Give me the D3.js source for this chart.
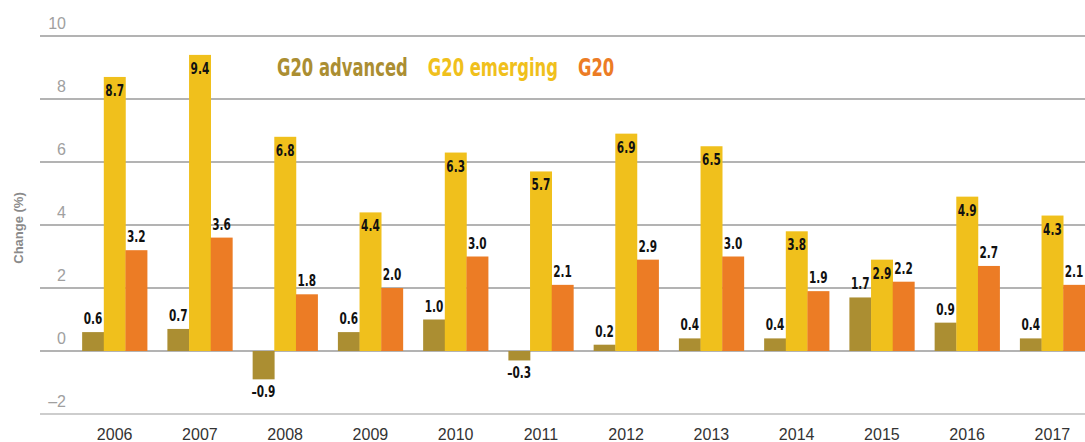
<!DOCTYPE html>
<html>
<head>
<meta charset="utf-8">
<script src="https://cdn.jsdelivr.net/npm/d3@7"></script>
<style>
  body { margin: 0; background: #fff; }
  svg { display: block; }
</style>
</head>
<body>
<script>
let years = ['2006','2007','2008','2009','2010','2011','2012','2013','2014','2015','2016','2017'];
let seriesNames = ['G20 advanced', 'G20 emerging', 'G20'];
let advanced = [0.6, 0.7, -0.9, 0.6, 1.0, -0.3, 0.2, 0.4, 0.4, 1.7, 0.9, 0.4];
let emerging = [8.7, 9.4, 6.8, 4.4, 6.3, 5.7, 6.9, 6.5, 3.8, 2.9, 4.9, 4.3];
let g20 = [3.2, 3.6, 1.8, 2.0, 3.0, 2.1, 2.9, 3.0, 1.9, 2.2, 2.7, 2.1];
let yTicks = [-2, 0, 2, 4, 6, 8, 10];

let colors = ['#ab8e32', '#f0c01c', '#ec7c25'];
let seriesValues = [advanced, emerging, g20];

let width = 1085,
    height = 442;

let svg = d3.select("body")
    .append("svg")
    .attr("width", width)
    .attr("height", height);

let y = d3.scaleLinear()
    .domain([-2, 10])
    .range([414, 36]);

let x = d3.scaleBand()
    .domain(years)
    .range([72, 1095])
    .paddingInner(0.238)
    .paddingOuter(0.119);

let xSub = d3.scaleBand()
    .domain(d3.range(seriesNames.length))
    .range([0, x.bandwidth()]);

// gridlines + tick labels
let grid = svg.append("g");
grid.selectAll("line")
    .data(yTicks)
    .join("line")
    .attr("x1", 40)
    .attr("x2", width)
    .attr("y1", d => y(d))
    .attr("y2", d => y(d))
    .attr("stroke", d => d === -2 ? "#bdbdbd" : "#9a9a9a")
    .attr("stroke-width", 1.5);

grid.selectAll("text")
    .data(yTicks)
    .join("text")
    .attr("x", 66)
    .attr("y", d => y(d) - 7)
    .attr("text-anchor", "end")
    .attr("font-family", "Liberation Sans, Arial, sans-serif")
    .attr("font-size", 16)
    .attr("fill", "#a0a0a0")
    .text(d => d < 0 ? "\u2013" + Math.abs(d) : d);

svg.append("text")
    .attr("transform", "translate(23,228) rotate(-90)")
    .attr("text-anchor", "middle")
    .attr("font-family", "Liberation Sans, Arial, sans-serif")
    .attr("font-weight", "bold")
    .attr("font-size", 13)
    .attr("fill", "#8a8a8a")
    .text("Change (%)");

// bars
let groups = svg.selectAll("g.year")
    .data(years)
    .join("g")
    .attr("class", "year")
    .attr("transform", d => `translate(${x(d)},0)`);

// condensed look: DejaVu Sans Condensed squeezed horizontally
let labelFont = "DejaVu Sans Condensed, DejaVu Sans, sans-serif";
let squeeze = 0.78;

seriesValues.forEach((vals, s) => {
    groups.append("rect")
        .attr("x", xSub(s))
        .attr("width", xSub.bandwidth() + 0.3)
        .attr("y", (d, i) => y(Math.max(0, vals[i])))
        .attr("height", (d, i) => Math.abs(y(vals[i]) - y(0)))
        .attr("fill", colors[s]);

    groups.append("text")
        .attr("transform", (d, i) => {
            let v = vals[i];
            let ty;
            if (v < 0) ty = y(v) + 18;
            else if (s === 1) ty = y(v) + 19;
            else ty = y(v) - 8;
            return `translate(${xSub(s) + xSub.bandwidth() / 2},${ty}) scale(${squeeze},1)`;
        })
        .attr("text-anchor", "middle")
        .attr("font-family", labelFont)
        .attr("font-weight", "bold")
        .attr("font-size", 15)
        .attr("fill", "#111")
        .text((d, i) => {
            let v = vals[i];
            return (v < 0 ? "\u2013" : "") + Math.abs(v).toFixed(1);
        });
});

// year labels
svg.append("g").selectAll("text")
    .data(years)
    .join("text")
    .attr("x", d => x(d) + x.bandwidth() / 2)
    .attr("y", 440)
    .attr("text-anchor", "middle")
    .attr("font-family", "Liberation Sans, Arial, sans-serif")
    .attr("font-size", 16)
    .attr("fill", "#333")
    .text(d => d);

// legend
let lx = 277;
seriesNames.forEach((name, s) => {
    let t = svg.append("text")
        .attr("transform", `translate(${lx},76) scale(0.76,1)`)
        .attr("font-family", labelFont)
        .attr("font-weight", "bold")
        .attr("font-size", 24)
        .attr("fill", colors[s])
        .text(name);
    lx += t.node().getComputedTextLength() * 0.76 + 20;
});
</script>
</body>
</html>
